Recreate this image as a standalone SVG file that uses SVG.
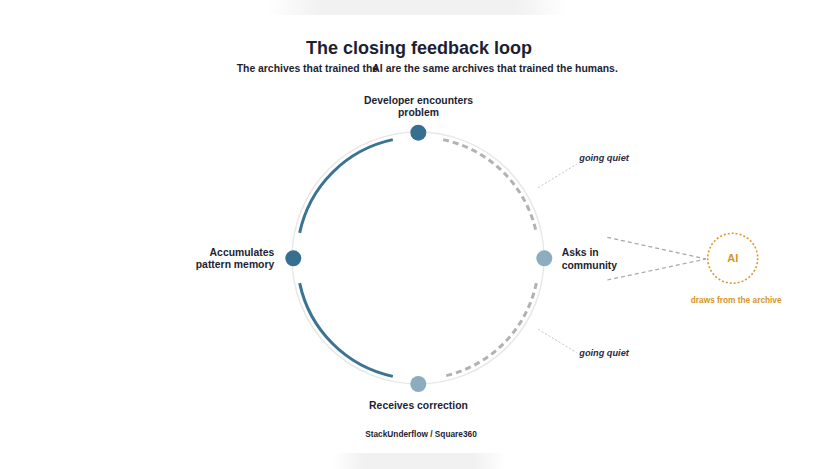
<svg xmlns="http://www.w3.org/2000/svg" width="835" height="469" viewBox="0 0 835 469">
<style>
text{font-family:"Liberation Sans",Arial,sans-serif;fill:#1e1e32}
.title{font-size:18px;font-weight:bold;text-anchor:middle}
.sub{font-size:10.4px;font-weight:bold}
.lbl{font-size:10.4px;font-weight:bold}
.quiet{font-size:9.2px;font-weight:bold;font-style:italic;fill:#2a2a44}
.ai{fill:#d4952a}
.arc-solid{fill:none;stroke:#3b7393;stroke-width:3;stroke-linecap:butt}
.arc-dash{fill:none;stroke:#b2b2b6;stroke-width:3;stroke-dasharray:6 4}
.leader{fill:none;stroke:#c4c4c8;stroke-width:1;stroke-dasharray:2 2}
.feed{fill:none;stroke:#a8a8ac;stroke-width:1.2;stroke-dasharray:4 3}
.dark{fill:#376f8f}
.light{fill:#8cadc0}
</style>
<defs>
<linearGradient id="sh" x1="0" y1="0" x2="1" y2="0">
<stop offset="0" stop-color="#f1f1f1" stop-opacity="0"/>
<stop offset="0.18" stop-color="#f1f1f1" stop-opacity="1"/>
<stop offset="0.82" stop-color="#f1f1f1" stop-opacity="1"/>
<stop offset="1" stop-color="#f1f1f1" stop-opacity="0"/>
</linearGradient>
</defs>
<rect width="835" height="469" fill="#ffffff"/>
<g id="shadows">
<rect x="268" y="0" width="300" height="15" fill="url(#sh)"/>
<rect x="333" y="453" width="172" height="16" fill="url(#sh)"/>
</g>
<g id="header">
<text class="title" x="419" y="53.5">The closing feedback loop</text>
<text class="sub" x="236.7" y="72">The archives that trained the<tspan dx="-5.8">AI are the same archives that trained the humans.</tspan></text>
</g>
<circle cx="418" cy="258" r="126" fill="none" stroke="#e8e8e8" stroke-width="1.5"/>
<g id="connectors">
<path class="arc-solid" d="M392.84 139.65 A121 121 0 0 0 299.65 232.84"/>
<path class="arc-solid" d="M299.65 283.16 A121 121 0 0 0 392.84 376.35"/>
<path class="arc-dash" d="M443.16 139.65 A121 121 0 0 1 536.35 232.84"/>
<path class="arc-dash" d="M536.35 283.16 A121 121 0 0 1 443.16 376.35"/>
<line class="leader" x1="538.3" y1="187.7" x2="576.7" y2="164"/>
<line class="leader" x1="538.3" y1="329.3" x2="576.7" y2="352.7"/>
<line class="feed" x1="607.3" y1="237.3" x2="706" y2="259"/>
<line class="feed" x1="607.3" y1="280" x2="706" y2="259"/>
</g>
<g id="node-problem">
<circle class="dark" cx="418.3" cy="132.7" r="8"/>
<text class="lbl" x="418.5" y="103.5" text-anchor="middle">Developer encounters</text>
<text class="lbl" x="418.5" y="116" text-anchor="middle">problem</text>
</g>
<g id="node-asks">
<circle class="light" cx="544.3" cy="258.3" r="8"/>
<text class="lbl" x="561.7" y="255.5">Asks in</text>
<text class="lbl" x="561.7" y="268.5">community</text>
</g>
<g id="node-correction">
<circle class="light" cx="418.3" cy="384" r="8"/>
<text class="lbl" x="418.5" y="408.5" text-anchor="middle">Receives correction</text>
</g>
<g id="node-memory">
<circle class="dark" cx="293.3" cy="258.3" r="8"/>
<text class="lbl" x="274.3" y="255.5" text-anchor="end">Accumulates</text>
<text class="lbl" x="274.3" y="268.3" text-anchor="end">pattern memory</text>
</g>
<g id="quiet-labels">
<text class="quiet" x="579.3" y="160.5">going quiet</text>
<text class="quiet" x="579.3" y="356">going quiet</text>
</g>
<g id="node-ai">
<circle cx="732.7" cy="258.3" r="25" fill="none" stroke="#d99a2b" stroke-width="1.6" stroke-dasharray="2 2"/>
<text class="ai" x="732.7" y="262.3" text-anchor="middle" font-size="11" font-weight="bold">AI</text>
<text class="ai" x="736.2" y="303.3" text-anchor="middle" font-size="8.3" font-weight="bold">draws from the archive</text>
</g>
<text x="421" y="437" text-anchor="middle" font-size="8.3" font-weight="bold">StackUnderflow / Square360</text>
</svg>
